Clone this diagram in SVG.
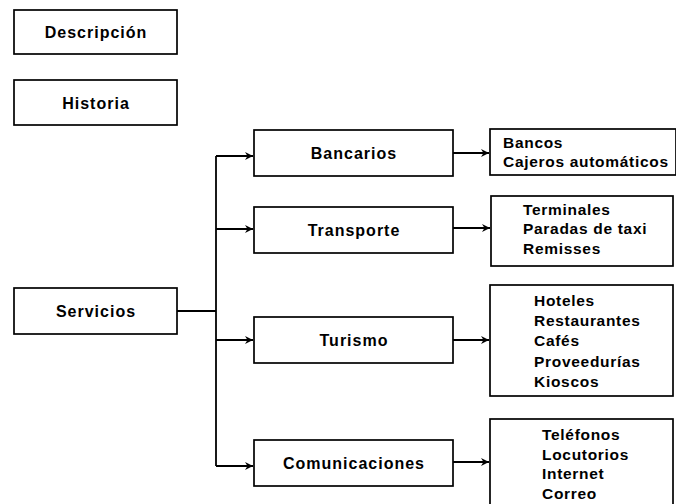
<svg xmlns="http://www.w3.org/2000/svg" width="676" height="504" viewBox="0 0 676 504">
<style>
.box{fill:#fff;stroke:#000;stroke-width:1.7}
.lbl{font-family:"Liberation Sans",Arial,sans-serif;font-size:16px;font-weight:bold;letter-spacing:1px;text-anchor:middle;fill:#000}
.lst{font-family:"Liberation Sans",Arial,sans-serif;font-size:15.5px;font-weight:bold;letter-spacing:0.7px;fill:#000}
.con{fill:none;stroke:#000;stroke-width:1.8}
</style>
<defs>
<marker id="ah" markerWidth="12" markerHeight="12" refX="10" refY="6" orient="auto" markerUnits="userSpaceOnUse">
<path d="M2,2 L10,6 L2,10 L4.5,6 Z" fill="#000"/>
</marker>
</defs>
<rect width="676" height="504" fill="#fff"/>
<g id="descripcion"><rect class="box" x="14" y="10" width="163" height="44"/><text class="lbl" x="96" y="37.5">Descripción</text></g>
<g id="historia"><rect class="box" x="14" y="80" width="163" height="45"/><text class="lbl" x="96" y="108.5">Historia</text></g>
<g id="servicios"><rect class="box" x="14" y="288" width="163" height="46"/><text class="lbl" x="96" y="317">Servicios</text></g>
<g id="bancarios"><rect class="box" x="254" y="130" width="199" height="46"/><text class="lbl" x="354" y="158.5">Bancarios</text></g>
<g id="transporte"><rect class="box" x="254" y="207" width="199" height="46"/><text class="lbl" x="354" y="235.5">Transporte</text></g>
<g id="turismo"><rect class="box" x="254" y="317" width="199" height="46"/><text class="lbl" x="354" y="345.5">Turismo</text></g>
<g id="comunicaciones"><rect class="box" x="254" y="440" width="199" height="46"/><text class="lbl" x="354" y="468.5">Comunicaciones</text></g>
<g id="lista-bancarios"><rect class="box" x="490" y="129" width="186" height="46"/>
<text class="lst" x="503" y="148">Bancos</text><text class="lst" x="503" y="167">Cajeros automáticos</text></g>
<g id="lista-transporte"><rect class="box" x="491" y="196" width="182" height="70"/>
<text class="lst" x="523" y="215">Terminales</text><text class="lst" x="523" y="234">Paradas de taxi</text><text class="lst" x="523" y="254">Remisses</text></g>
<g id="lista-turismo"><rect class="box" x="490" y="285" width="183" height="111"/>
<text class="lst" x="534" y="305.5">Hoteles</text><text class="lst" x="534" y="326">Restaurantes</text><text class="lst" x="534" y="346">Cafés</text><text class="lst" x="534" y="366.5">Proveedurías</text><text class="lst" x="534" y="387">Kioscos</text></g>
<g id="lista-comunicaciones"><rect class="box" x="490" y="419" width="183" height="90"/>
<text class="lst" x="542" y="440">Teléfonos</text><text class="lst" x="542" y="460">Locutorios</text><text class="lst" x="542" y="479">Internet</text><text class="lst" x="542" y="499">Correo</text></g>
<g id="connectors">
<path class="con" d="M177,311 H216"/>
<path class="con" d="M216,156 V466"/>
<path class="con" d="M216,156 H253" marker-end="url(#ah)"/>
<path class="con" d="M216,229 H253" marker-end="url(#ah)"/>
<path class="con" d="M216,340 H253" marker-end="url(#ah)"/>
<path class="con" d="M216,466 H253" marker-end="url(#ah)"/>
<path class="con" d="M453,153 H489" marker-end="url(#ah)"/>
<path class="con" d="M453,228 H490" marker-end="url(#ah)"/>
<path class="con" d="M453,340 H489" marker-end="url(#ah)"/>
<path class="con" d="M453,462 H489" marker-end="url(#ah)"/>
</g>
</svg>
